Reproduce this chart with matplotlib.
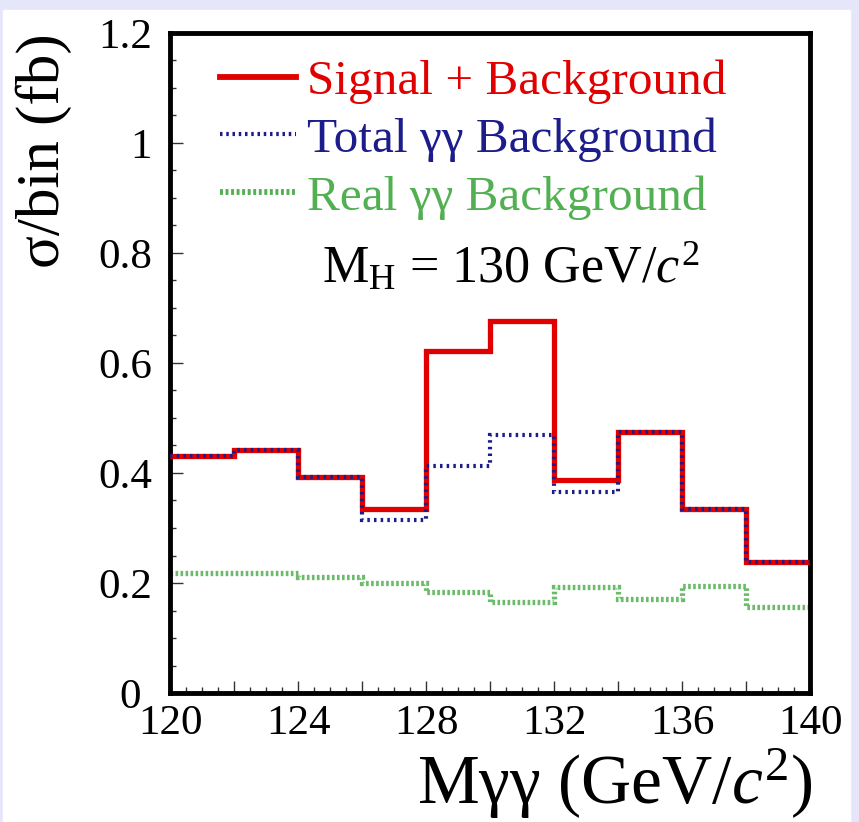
import numpy as np
import matplotlib
matplotlib.use('Agg')
import matplotlib.pyplot as plt
from matplotlib.lines import Line2D
from matplotlib.patches import Rectangle
from matplotlib.ticker import MultipleLocator, FuncFormatter

# ── data ────────────────────────────────────────────────────────────────────
edges = [120, 122, 124, 126, 128, 130, 132, 134, 136, 138, 140]
sig_plus_bkg = [0.431, 0.442, 0.393, 0.334, 0.621, 0.676, 0.387, 0.475, 0.334, 0.238]
total_bkg    = [0.431, 0.442, 0.393, 0.314, 0.413, 0.469, 0.366, 0.475, 0.334, 0.238]
real_bkg     = [0.219, 0.218, 0.211, 0.200, 0.184, 0.165, 0.192, 0.171, 0.195, 0.156]

plt.rcParams['font.family'] = ['Liberation Serif', 'DejaVu Serif']
plt.rcParams['mathtext.fontset'] = 'custom'
plt.rcParams['mathtext.rm'] = 'Liberation Serif'
plt.rcParams['mathtext.it'] = 'Liberation Serif:italic'

RED, BLUE, GREEN = '#e00000', '#1c1c8a', '#52b052'

fig = plt.figure(figsize=(8.59, 8.22), dpi=100, facecolor='#e6e6fb')
# white panel inside the lavender border
fig.patches.append(Rectangle((3 / 859, 0), 847 / 859, 812 / 822,
                             transform=fig.transFigure, color='white', zorder=-10))
ax = fig.add_axes([170 / 859, 129 / 822, 640 / 859, 660 / 822])

ax.stairs(sig_plus_bkg, edges, color=RED, lw=3.8, baseline=None, zorder=3)
ax.stairs(total_bkg, edges, color=BLUE, lw=3.0, ls=(0, (0.6, 1.0)), baseline=None, zorder=4)
ax.stairs(real_bkg, edges, color=GREEN, lw=3.8, ls=(0, (0.5, 0.45)), alpha=0.85,
          baseline=None, zorder=2)

ax.set_xlim(120, 140)
ax.set_ylim(0, 1.2)
for s in ax.spines.values():
    s.set_linewidth(3.5)


def ylab(v, pos):
    # the "0" sits a little further left, clear of "120"
    return "0 " if abs(v) < 1e-9 else f"{v:g}"


ax.xaxis.set_major_locator(MultipleLocator(2))
ax.xaxis.set_minor_locator(MultipleLocator(0.5))
ax.xaxis.set_major_formatter(FuncFormatter(lambda v, p: f"{v:g}" if round(v) % 4 == 0 else ""))
ax.yaxis.set_major_locator(MultipleLocator(0.2))
ax.yaxis.set_minor_locator(MultipleLocator(0.05))
ax.yaxis.set_major_formatter(FuncFormatter(ylab))
ax.tick_params(which='both', direction='in', top=False, right=False, width=1.0, color='#333333')
ax.tick_params(which='major', length=9, labelsize=31)
ax.tick_params(which='minor', length=4.5)
ax.tick_params(axis='y', which='major', pad=13)
ax.tick_params(axis='x', which='major', pad=8)

ax.set_ylabel('σ/bin (fb)', fontsize=44, loc='top')
ax.yaxis.set_label_coords(-0.153, 1.0)
ax.set_xlabel('Mγγ (GeV/$c^2$)', fontsize=50, loc='right')
ax.xaxis.set_label_coords(1.005, -0.082)

handles = [Line2D([], [], color=RED, lw=4.2),
           Line2D([], [], color=BLUE, lw=3.0, ls=(0, (0.6, 0.9))),
           Line2D([], [], color=GREEN, lw=4.2, ls=(0, (0.5, 0.45)))]
labels = ['Signal + Background', 'Total γγ Background', 'Real γγ Background']
leg = ax.legend(handles, labels, loc='upper left', bbox_to_anchor=(0.078, 0.960),
                frameon=False, fontsize=35.5, handlelength=1.55, handletextpad=0.22,
                labelspacing=0.27, borderpad=0, borderaxespad=0)
for t, c in zip(leg.get_texts(), [RED, BLUE, GREEN]):
    t.set_color(c)

ax.text(0.238, 0.645, 'M$_\\mathrm{H}$ = 130 GeV/$c^2$', transform=ax.transAxes,
        fontsize=37.5, va='center', ha='left')

fig.savefig('out.png', dpi=100, facecolor=fig.get_facecolor())
